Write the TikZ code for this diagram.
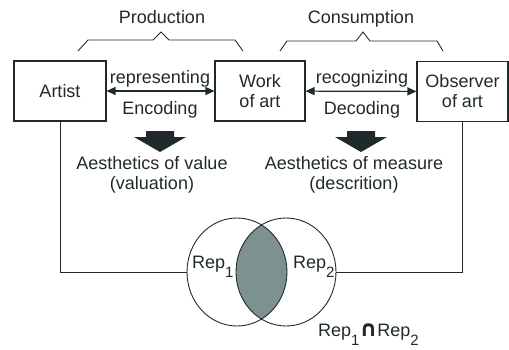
\documentclass[tikz,border=0pt]{standalone}
\usepackage{fontspec}
\setmainfont{Liberation Sans}
\newfontfamily\symfont{DejaVu Sans}
\usetikzlibrary{arrows.meta,shapes.geometric}
\definecolor{ink}{RGB}{32,42,42}
\definecolor{lens}{RGB}{125,146,144}
\newcommand{\repsub}[1]{Rep\raisebox{-9pt}{\fontsize{15}{15}\selectfont #1}}

\begin{document}
\begin{tikzpicture}[x=1pt,y=-1pt,
  every node/.style={font=\fontsize{18}{20}\selectfont, text=ink, inner sep=0pt},
  box/.style={draw=ink, line width=1.1pt, minimum width=92pt, minimum height=60pt, align=center},
  link/.style={draw=ink, line width=1.2pt, {Triangle[length=9pt,width=8pt]}-{Triangle[length=9pt,width=8pt]}},
  brace/.style={draw=ink, line width=0.9pt},
  wire/.style={draw=ink, line width=0.9pt},
  venn/.style={draw=ink, line width=0.9pt, ellipse, minimum width=100pt, minimum height=108pt}]
\useasboundingbox (0,0) rectangle (509,349);

% boxes
\node[box] (artist) at (60,91) {Artist};
\node[box, minimum width=90pt] (work) at (260,91) {Work\\of art};
\node[box, minimum width=91pt] (observer) at (462.5,91.5) {Observer\\of art};

\draw[link] (artist) -- (work);
\draw[link] (work) -- (observer);

\node[anchor=base] (representing) at (160,83) {representing};
\node[anchor=base] (encoding) at (160,114) {Encoding};
\node[anchor=base] (recognizing) at (362,83) {recognizing};
\node[anchor=base] (decoding) at (362,114) {Decoding};

% braces
\draw[brace] (78,51) -- (88,40) -- (153,40) -- (161,32) -- (169,40) -- (235,40) -- (243,51);
\draw[brace] (280,51) -- (287,41) -- (356,41) -- (363,32) -- (370,41) -- (437,41) -- (443,51);
\node[anchor=base] (production) at (162,23) {Production};
\node[anchor=base] (consumption) at (361,23) {Consumption};

% big arrows
\fill[ink] (146,131) -- (174,131) -- (174,137) -- (186,137) -- (160,152) -- (134,137) -- (146,137) -- cycle;
\fill[ink] (347,131) -- (375,131) -- (375,137) -- (387,137) -- (361,152) -- (335,137) -- (347,137) -- cycle;

\node[align=center] (value) at (152,175) {Aesthetics of value\\(valuation)};
\node[align=center] (measure) at (354,175) {Aesthetics of measure\\(descrition)};

% venn
\begin{scope}
\clip (237,272) ellipse [x radius=50, y radius=54];
\fill[lens] (286,272) ellipse [x radius=50, y radius=54];
\end{scope}
\node[venn] (rep1) at (237,272) {};
\node[venn] (rep2) at (286,272) {};

\draw[wire] (artist) |- (rep1.west);
\draw[wire] (observer) |- (rep2.east);

\node[anchor=base west] (label1) at (192,268) {\repsub{1}};
\node[anchor=base west] (label2) at (293,268) {\repsub{2}};
\node[anchor=base west] (both) at (318,336) {\repsub{1}{\symfont\bfseries\fontsize{22}{22}\selectfont ∩}\repsub{2}};
\end{tikzpicture}
\end{document}
